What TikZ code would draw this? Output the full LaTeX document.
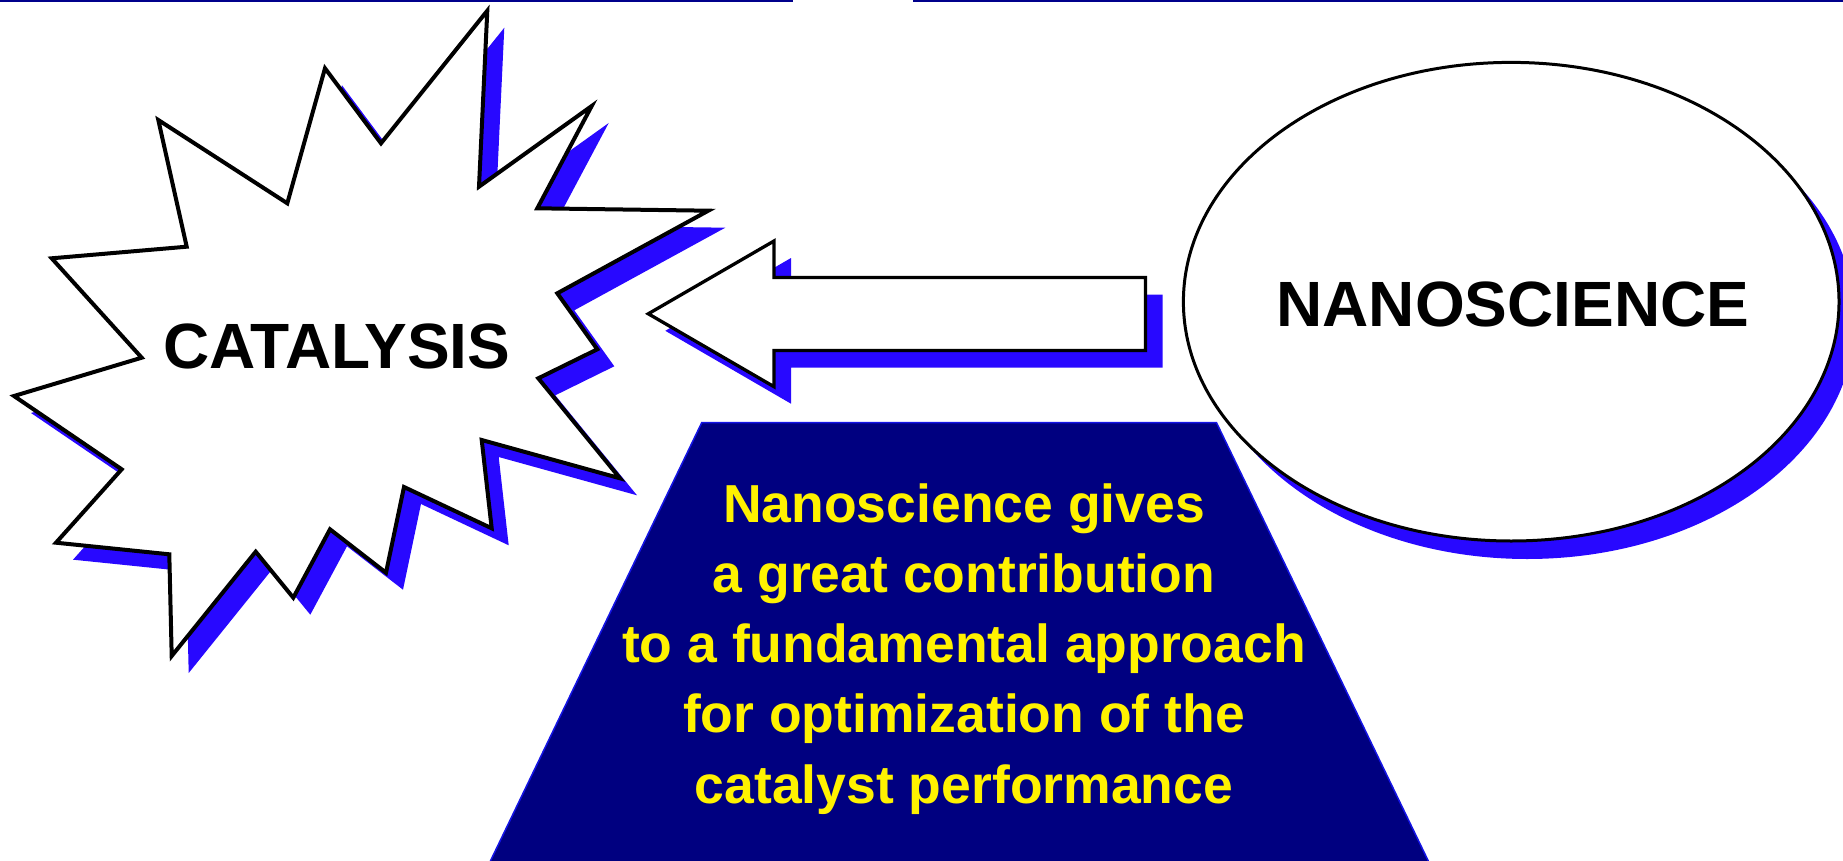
\documentclass[tikz,border=0pt]{standalone}
\usepackage{fontspec}
\setmainfont{Liberation Sans}
\usetikzlibrary{shapes.geometric}
\definecolor{shadeblue}{RGB}{40,8,255}
\definecolor{panelnavy}{RGB}{0,0,128}
\definecolor{paneledge}{RGB}{20,20,230}
\definecolor{rulenavy}{RGB}{0,0,140}
% outline of the burst around CATALYSIS
\newcommand\burstoutline{(487.3,10.7) -- (479,186.7) -- (591.7,106) -- (537.3,208.3)
  -- (708.3,210.7) -- (557.3,293.3) -- (597.3,349.3) -- (538.3,378.3)
  -- (620,478.3) -- (481.7,440) -- (491.7,528.3) -- (404,487)
  -- (386,572.7) -- (330,529.3) -- (293.3,597.7) -- (255.7,551.7)
  -- (171.7,656) -- (169.3,554.3) -- (56,542.7) -- (121.7,469.3)
  -- (14,396) -- (141.7,357.7) -- (51.7,258.3) -- (186.7,246.7)
  -- (158.3,120) -- (287.3,203.3) -- (325,68.3) -- (381,143.3) -- cycle}
% outline of the block arrow pointing left
\newcommand\arrowoutline{(648.3,313.8) -- (774,241) -- (774,277.5) -- (1145.5,277.5)
  -- (1145.5,350.5) -- (774,350.5) -- (774,386.7) -- cycle}
\begin{document}
\begin{tikzpicture}[x=1pt,y=-1pt,
  outline/.style={draw=black,line width=3.2pt,fill=white,line join=miter},
  dropshadow/.style={fill=shadeblue,draw=none},
  title/.style={font=\fontsize{64}{64}\selectfont\bfseries,anchor=base,inner sep=0pt},
  bodyline/.style={font=\fontsize{53.5}{53.5}\selectfont\bfseries,text=yellow,anchor=base,inner sep=0pt}]
\useasboundingbox (0,0) rectangle (1843,861);

% rules along the top edge
\fill[rulenavy] (0,0) rectangle (792.5,2.5);
\fill[rulenavy] (913,0) rectangle (1843,2.5);

% burst with its shadow
\path[dropshadow,shift={(17,17)}] \burstoutline;
\path[outline,line width=4pt] \burstoutline;
\node[title] (cat) at (336.7,368.3) {CATALYSIS};

% block arrow with its shadow
\path[dropshadow,shift={(17,17)}] \arrowoutline;
\path[outline,line width=3.3pt] \arrowoutline;

% ellipse with its shadow
\node[ellipse,dropshadow,minimum width=655.6pt,minimum height=478.6pt,inner sep=0pt] (nanoshade) at (1527.2,319.7) {};
\node[ellipse,outline,line width=3pt,minimum width=655.6pt,minimum height=478.6pt,inner sep=0pt] (nano) at (1511.2,301.7) {};
\node[title] (nanolabel) at (1512.9,326) {NANOSCIENCE};

% trapezoid panel
\fill[panelnavy] (701.7,422.7) -- (1216.5,422.7) -- (1428.3,861) -- (490.4,861) -- cycle;
\draw[paneledge,line width=1.5pt,line join=miter] (490.4,861) -- (701.7,422.7) -- (1216.5,422.7) -- (1428.3,861);

\node[bodyline] (t1) at (964,522.2) {Nanoscience gives};
\node[bodyline] (t2) at (964,592.4) {a great contribution};
\node[bodyline] (t3) at (964,662.6) {to a fundamental approach};
\node[bodyline] (t4) at (964,732.8) {for optimization of the};
\node[bodyline] (t5) at (964,803.0) {catalyst performance};
\end{tikzpicture}
\end{document}
